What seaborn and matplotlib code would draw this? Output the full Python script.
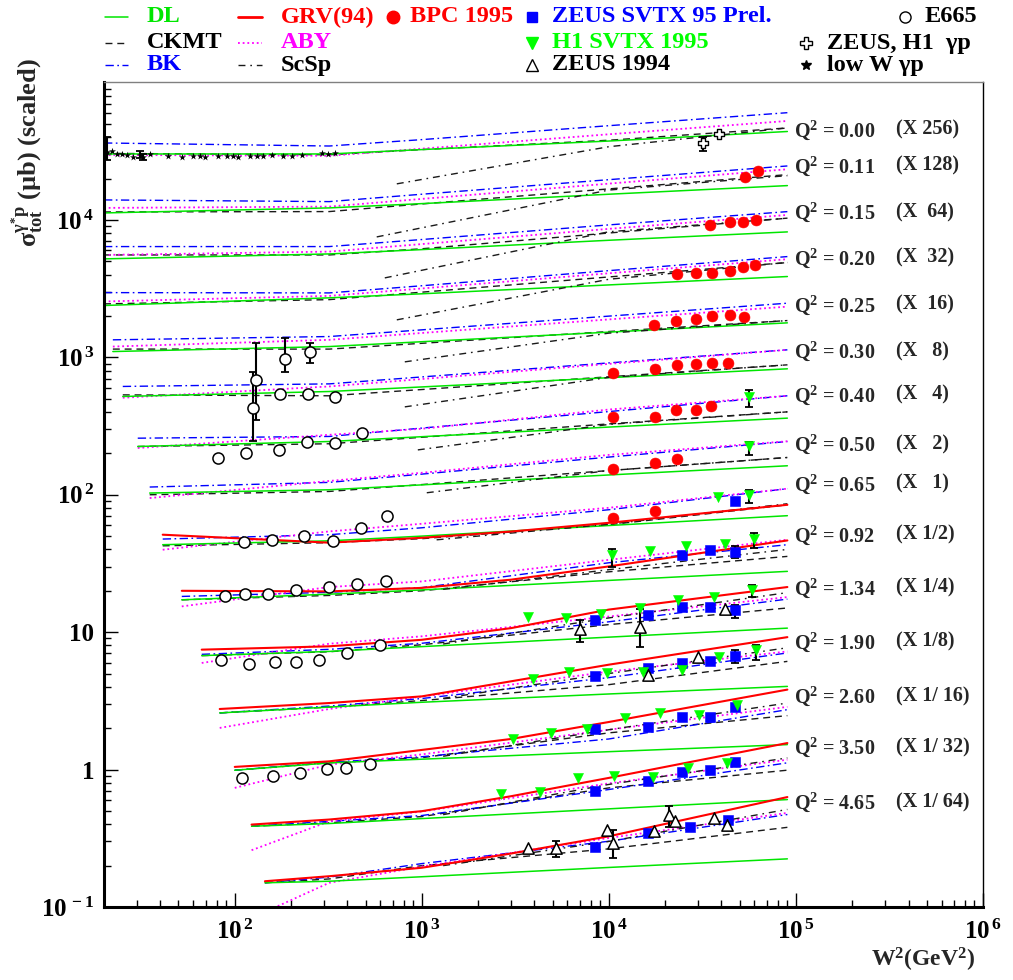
import numpy as np
import matplotlib
matplotlib.use("Agg")
import matplotlib.pyplot as plt
from matplotlib.lines import Line2D
from matplotlib import ticker
import seaborn as sns

sns.set_style("white")
plt.rcParams["font.family"] = ["Liberation Serif", "DejaVu Serif"]
plt.rcParams["font.weight"] = "bold"
plt.rcParams["mathtext.fontset"] = "custom"
plt.rcParams["mathtext.rm"] = "Liberation Serif:bold"
plt.rcParams["mathtext.it"] = "Liberation Serif:bold"
plt.rcParams["mathtext.bf"] = "Liberation Serif:bold"
plt.rcParams["mathtext.default"] = "bf"

GREEN = "#00e600"
BLUE = "#0000ff"
RED = "#ff0000"
MAGENTA = "#ff00ff"

# ---------------- data ----------------
q2_labels = ["0.00", "0.11", "0.15", "0.20", "0.25", "0.30", "0.40", "0.50",
             "0.65", "0.92", "1.34", "1.90", "2.60", "3.50", "4.65"]
scale_labels = ["(X 256)", "(X 128)", "(X  64)", "(X  32)", "(X  16)", "(X   8)",
                "(X   4)", "(X   2)", "(X   1)", "(X 1/2)", "(X 1/4)", "(X 1/8)",
                "(X 1/ 16)", "(X 1/ 32)", "(X 1/ 64)"]
label_sigma = [45200, 24700, 11400, 5300, 2410, 1110, 533, 231, 120, 51, 21,
               8.5, 3.4, 1.45, 0.575]
label_w2 = 97500
scale_w2 = 343000

x_ticks = [1e2, 1e3, 1e4, 1e5, 1e6]
y_ticks = [1e-1, 1, 10, 1e2, 1e3, 1e4]

# model curves: group start W2, then 320, 1e3, 1e4, 9e4 GeV^2
curve_w2_start = [20, 20, 20, 20, 22.3, 25.2, 30.3, 35.1, 41.2, 52.1, 66.6,
                  83.1, 100, 123, 145]
curve_w2_common = [320, 1000, 10000, 90000]

dl_sigma = [
    [30200, 30200, 32500, 37500, 44000],
    [11240, 12230, 13140, 15380, 17770],
    [5205, 5656, 6081, 7111, 8180],
    [2383, 2710, 2900, 3365, 3873],
    [1102, 1198, 1299, 1525, 1782],
    [519, 564, 609, 711, 825],
    [224.5, 244, 264.5, 310.8, 361],
    [102.9, 108.7, 118, 139.3, 162.5],
    [43.3, 46.2, 50.0, 59.7, 70.4],
    [17.2, 18.9, 20.3, 23.8, 27.7],
    [6.75, 7.24, 7.85, 9.2, 10.7],
    [2.585, 2.85, 3.09, 3.55, 4.03],
    [0.989, 1.119, 1.19, 1.35, 1.52],
    [0.387, 0.405, 0.44, 0.518, 0.605],
    [0.150, 0.154, 0.166, 0.194, 0.224],
]
ckmt_sigma = [
    [30500, 29800, 32500, 38000, 46700],
    [11430, 11500, 13070, 16820, 21360],
    [5560, 5560, 6166, 8030, 10290],
    [2449, 2630, 2980, 3846, 4897],
    [1148, 1148, 1265, 1541, 1852],
    [533, 525, 583, 722, 882],
    [224.5, 235, 262, 327.8, 401.4],
    [100, 105.7, 118.6, 150, 186.7],
    [42.5, 44.8, 47.9, 60.5, 84.5],
    [17.2, 18.5, 20.0, 27.5, 35.6],
    [6.75, 7.2, 8.1, 11.35, 15.0],
    [2.585, 2.85, 3.18, 4.15, 6.13],
    [0.989, 1.12, 1.22, 1.85, 2.47],
    [0.387, 0.41, 0.455, 0.736, 0.99],
    [0.150, 0.160, 0.200, 0.265, 0.380],
]
bk_sigma = [
    [36300, 34500, 38400, 48500, 60300],
    [13980, 13590, 15380, 19630, 24700],
    [6398, 6398, 7200, 9200, 11490],
    [2958, 2943, 3318, 4275, 5410],
    [1341, 1417, 1585, 1995, 2477],
    [614, 641, 720, 911, 1134],
    [258, 265.6, 305.6, 403, 525],
    [113.8, 123, 141.3, 188, 244],
    [47.6, 51.2, 57.5, 77.8, 110.7],
    [18.2, 19.5, 21.1, 32.0, 43.3],
    [6.9, 7.5, 8.3, 11.9, 17.4],
    [2.585, 2.9, 3.29, 4.67, 7.06],
    [0.989, 1.13, 1.24, 1.67, 2.73],
    [0.387, 0.42, 0.463, 0.716, 1.12],
    [0.150, 0.165, 0.207, 0.301, 0.471],
]
aby_sigma = [
    [29700, 29300, 33000, 42000, 52500],
    [12230, 12500, 14220, 18370, 23370],
    [5560, 5880, 6670, 8610, 10870],
    [2549, 2800, 3170, 4090, 5180],
    [1198, 1341, 1504, 1888, 2338],
    [508, 614, 695, 896, 1134],
    [218.8, 273, 302, 417, 525],
    [94.6, 126, 144.5, 195, 245],
    [39.8, 54.1, 61.5, 80.4, 110.7],
    [15.4, 21.3, 23.4, 33.6, 47.1],
    [5.97, 8.24, 9.33, 13.0, 18.0],
    [2.01, 2.76, 3.40, 5.16, 7.24],
    [0.736, 1.087, 1.29, 1.95, 2.86],
    [0.259, 0.42, 0.495, 0.794, 1.18],
    [0.092, 0.150, 0.197, 0.318, 0.484],
]

# GRV(94) only for Q2 >= 0.65 (groups 8..14): start, 320, 1e3, 3e3, 1e4, 9e4
grv_groups = [8, 9, 10, 11, 12, 13, 14]
grv_w2_common = [320, 1000, 3000, 10000, 90000]
grv_sigma = [
    [51.2, 44.8, 48.6, 54.0, 62.5, 84.5],
    [20.0, 19.8, 21.0, 24.1, 30.1, 46.5],
    [7.46, 7.89, 8.8, 10.7, 14.6, 21.3],
    [2.76, 3.05, 3.41, 4.39, 5.8, 9.2],
    [1.046, 1.148, 1.39, 1.67, 2.22, 3.82],
    [0.398, 0.433, 0.498, 0.64, 0.87, 1.56],
    [0.154, 0.1675, 0.193, 0.245, 0.327, 0.631],
]

# ScSp: start, 1e4, 9e4
scsp_w2_start = [735, 574, 634, 735, 811, 811, 952, 1063, 1200, 1300, 1300,
                 1300, 1300, 1300, 1300]
scsp_w2_common = [10000, 90000]
scsp_sigma = [
    [18300, 34100, 46700],
    [7520, 16500, 21000],
    [3785, 8200, 10300],
    [1874, 3700, 4897],
    [927, 1500, 1852],
    [436, 715, 882],
    [212, 325, 401],
    [103.4, 150, 186.7],
    [47.0, 61, 86],
    [20.5, 28.5, 40],
    [8.2, 12.7, 19.4],
    [3.3, 5.0, 7.7],
    [1.25, 1.95, 3.05],
    [0.47, 0.78, 1.216],
    [0.20, 0.30, 0.513],
]

# BPC 1995
bpc_w2 = [53400, 62600,
          34700, 44400, 52100, 61100,
          23100, 29200, 35500, 44400, 52100, 60400,
          17400, 22800, 29200, 35500, 44400, 52700,
          10500, 17600, 23100, 29200, 35500, 43300,
          10500, 17600, 22800, 29200, 35100,
          10500, 17600, 23100,
          10500, 17600]
bpc_sigma = [20550, 22700,
             9200, 9670, 9670, 10000,
             4050, 4120, 4120, 4260, 4550, 4710,
             1720, 1840, 1905, 2000, 2040, 1970,
             772, 825, 882, 897, 912, 912,
             369, 369, 415, 415, 444,
             155, 171, 183,
             68.0, 76.5]

# H1 SVTX 1995
h1_w2 = [56100, 56100, 38300, 56100,
         10400, 16600, 25800, 41700, 59600,
         3690, 5890, 9060, 14700, 23400, 36400, 58200,
         3920, 6110, 9760, 15200, 24600, 38800, 61100,
         3070, 4900, 7630, 12200, 18700, 30300, 48400,
         2650, 4280, 6830, 10600, 17200, 26500, 42800]
h1_sigma = [516, 227, 96.7, 100,
            36.6, 39.2, 42.6, 44.0, 47.9,
            12.96, 12.75, 13.63, 15.1, 17.2, 18.1, 20.4,
            4.59, 5.16, 5.08, 5.16, 5.34, 6.63, 7.46,
            1.68, 1.86, 1.99, 2.39, 2.60, 2.51, 2.97,
            0.669, 0.692, 0.875, 0.905, 0.889, 1.034, 1.124]
h1_err_w2 = [56100, 56100, 56100, 10400, 59600, 58200, 61100]
h1_err_sigma = [516, 227, 100, 36.6, 47.9, 20.4, 7.46]
h1_err_lo = [436, 195, 87.5, 29.9, 41.2, 18.1, 6.31]
h1_err_hi = [580, 243, 108.7, 40.5, 52.9, 22.2, 8.11]

# ZEUS SVTX 95 Prel.
zsvtx_w2 = [47200,
            24600, 34700, 47200,
            8400, 16200, 24600, 34700, 47200,
            8400, 16200, 24600, 34700, 47200,
            8400, 16200, 24600, 34700, 47200,
            8400, 16200, 24600, 34700, 47200,
            8400, 16200, 27100, 43300]
zsvtx_sigma = [90.4,
               36.6, 39.8, 38.5,
               12.33, 13.4, 15.3, 15.3, 14.6,
               4.83, 5.52, 6.00, 6.20, 6.75,
               1.99, 2.05, 2.43, 2.43, 2.87,
               0.704, 0.832, 0.967, 1.0, 1.144,
               0.275, 0.348, 0.385, 0.433]
zsvtx_err_w2 = [47200, 47200, 47200]
zsvtx_err_sigma = [38.5, 14.6, 6.75]
zsvtx_err_lo = [34.8, 12.75, 6.0]
zsvtx_err_hi = [42.6, 15.8, 7.46]

# ZEUS 1994
z94_w2 = [7000, 14700, 41700,
          16200, 29900,
          3690, 5210, 9760, 10500, 17400, 20900, 22500, 36400, 42800]
z94_sigma = [10.6, 10.96, 14.8,
             4.91, 6.63,
             0.271, 0.271, 0.366, 0.294, 0.360, 0.471, 0.426, 0.448, 0.398]
z94_err_w2 = [7000, 14700, 5210, 10500, 20900]
z94_err_sigma = [10.6, 10.96, 0.271, 0.294, 0.471]
z94_err_lo = [8.53, 7.85, 0.233, 0.229, 0.379]
z94_err_hi = [12.3, 14.8, 0.30, 0.366, 0.547]

# E665
e665_w2 = [129.5, 185, 252,
           125, 174, 246, 343,
           81.1, 114.5, 172, 243, 343, 478,
           111.7, 157.7, 234, 334, 472, 650,
           88.4, 113, 150, 212, 318, 449, 642,
           84.2, 118.8, 163.7, 212, 281, 397, 596,
           110, 159.7, 222.6, 310, 392, 527]
e665_sigma = [686, 975, 1096,
              429, 543, 543, 516,
              186, 202, 212, 243, 239, 282,
              45.5, 47.1, 50.3, 46.3, 57.5, 70.4,
              18.4, 19.05, 19.05, 20.4, 21.4, 22.5, 23.7,
              6.31, 5.90, 6.10, 6.10, 6.31, 7.09, 8.11,
              0.875, 0.905, 0.951, 1.017, 1.034, 1.105]
e665_err_w2 = [129.5, 185, 252, 125]
e665_err_sigma = [686, 975, 1096, 429]
e665_err_lo = [351, 784, 912, 247]
e665_err_hi = [1275, 1386, 1275, 784]

# ZEUS, H1 gamma p
zh_w2 = [31800, 38800]
zh_sigma = [36300, 42200]
zh_err_lo = [31800, 40000]
zh_err_hi = [40100, 44500]

# low W gamma p
loww_w2 = [20.7, 22.0, 23.4, 24.9, 26.5, 28.5, 31.0, 32.2, 35.1, 43.8, 52.1,
           59.6, 65.0, 69.1, 81.1, 90.6, 97.6, 103.8, 120.3, 131.1, 141.1,
           157.7, 180.6, 201.8, 228.2, 292, 314, 343]
loww_sigma = [31200, 31800, 30200, 30200, 29700, 28700, 29700, 28700, 30200,
              29200, 28700, 29200, 29200, 28700, 29200, 29200, 29200, 28700,
              29200, 29200, 29200, 29700, 29200, 29200, 29700, 30700, 30200,
              30700]
loww_err_w2 = [20.7, 31.0, 32.2]
loww_err_sigma = [31200, 29700, 28700]
loww_err_lo = [27300, 28000, 27500]
loww_err_hi = [40100, 31500, 30200]

# ---------------- figure ----------------
W_PX, H_PX = 1013, 980
fig = plt.figure(figsize=(W_PX / 100, H_PX / 100), dpi=100)
ax = fig.add_axes([104 / W_PX, 1 - 907 / H_PX, 879 / W_PX, 824.5 / H_PX])
ax.set_xscale("log")
ax.set_yscale("log")
ax.set_xlim(20, 1e6)
ax.set_ylim(0.1, 1e5)

styles = {
    "DL": dict(color=GREEN, lw=1.1, linestyle="-"),
    "CKMT": dict(color="0.1", lw=1.0, linestyle=(0, (5, 3.5))),
    "BK": dict(color=BLUE, lw=1.0, linestyle=(0, (6, 2.5, 1.2, 2.5))),
    "ABY": dict(color=MAGENTA, lw=1.3, linestyle=(0, (1.0, 1.6))),
    "ScSp": dict(color="0.1", lw=1.0, linestyle=(0, (5, 3.5, 1.2, 3.5))),
    "GRV": dict(color=RED, lw=1.5, linestyle="-"),
}

for i in range(len(q2_labels)):
    xs = [curve_w2_start[i]] + curve_w2_common
    for name, table in (("CKMT", ckmt_sigma), ("BK", bk_sigma),
                        ("ABY", aby_sigma), ("DL", dl_sigma)):
        sns.lineplot(x=xs, y=table[i], ax=ax, estimator=None, sort=False,
                     zorder=2, **styles[name])
    sns.lineplot(x=[scsp_w2_start[i]] + scsp_w2_common, y=scsp_sigma[i], ax=ax,
                 estimator=None, sort=False, zorder=2, **styles["ScSp"])

for g, ys in zip(grv_groups, grv_sigma):
    sns.lineplot(x=[curve_w2_start[g]] + grv_w2_common, y=ys, ax=ax,
                 estimator=None, sort=False, zorder=2, **styles["GRV"])


def errbars(xs, ys, lo, hi):
    ys = np.asarray(ys)
    ax.errorbar(xs, ys, yerr=[ys - np.asarray(lo), np.asarray(hi) - ys],
                fmt="none", ecolor="black", elinewidth=1.5, capsize=3,
                capthick=1.3, zorder=3)


errbars(h1_err_w2, h1_err_sigma, h1_err_lo, h1_err_hi)
errbars(zsvtx_err_w2, zsvtx_err_sigma, zsvtx_err_lo, zsvtx_err_hi)
errbars(z94_err_w2, z94_err_sigma, z94_err_lo, z94_err_hi)
errbars(e665_err_w2, e665_err_sigma, e665_err_lo, e665_err_hi)
errbars(zh_w2[:1], zh_sigma[:1], zh_err_lo[:1], zh_err_hi[:1])
errbars(loww_err_w2, loww_err_sigma, loww_err_lo, loww_err_hi)

sns.scatterplot(x=loww_w2, y=loww_sigma, ax=ax, marker="*", s=28,
                color="black", linewidth=0, zorder=5)
sns.scatterplot(x=e665_w2, y=e665_sigma, ax=ax, marker="o", s=64,
                color="white", edgecolor="black", linewidth=1.1, zorder=5)
sns.scatterplot(x=bpc_w2, y=bpc_sigma, ax=ax, marker="o", s=62,
                color=RED, edgecolor=RED, linewidth=0.4, zorder=5)
sns.scatterplot(x=zsvtx_w2, y=zsvtx_sigma, ax=ax, marker="s", s=46,
                color=BLUE, edgecolor=BLUE, linewidth=0.4, zorder=5)
sns.scatterplot(x=h1_w2, y=h1_sigma, ax=ax, marker="v", s=52,
                color="#00ff00", edgecolor="#00ff00", linewidth=0.4, zorder=5)
sns.scatterplot(x=z94_w2, y=z94_sigma, ax=ax, marker="^", s=66,
                color="white", edgecolor="black", linewidth=1.1, zorder=5)
sns.scatterplot(x=zh_w2, y=zh_sigma, ax=ax, marker="P", s=60,
                color="white", edgecolor="black", linewidth=1.0, zorder=5)

# Q2 labels and scale factors
for i in range(len(q2_labels)):
    ax.text(label_w2, label_sigma[i], "Q$^{2}$ = " + q2_labels[i],
            fontsize=14.5, fontweight="bold", va="center", ha="left")
    ax.text(scale_w2, label_sigma[i], scale_labels[i],
            fontsize=14.5, fontweight="bold", va="center", ha="left")

# axes styling
ax.xaxis.set_major_locator(ticker.FixedLocator(x_ticks))
ax.yaxis.set_major_locator(ticker.FixedLocator(y_ticks))
ax.xaxis.set_minor_locator(ticker.LogLocator(base=10, subs=np.arange(2, 10), numticks=40))
ax.yaxis.set_minor_locator(ticker.LogLocator(base=10, subs=np.arange(2, 10), numticks=40))
ax.xaxis.set_minor_formatter(ticker.NullFormatter())
ax.yaxis.set_minor_formatter(ticker.NullFormatter())


def x_fmt(v, pos):
    return r"$10^{\,%d}$" % int(round(np.log10(v)))


def y_fmt(v, pos):
    e = int(round(np.log10(v)))
    if e == 0:
        return "1"
    if e == 1:
        return "10"
    return r"$10^{\,%d}$" % e


ax.xaxis.set_major_formatter(ticker.FuncFormatter(x_fmt))
ax.yaxis.set_major_formatter(ticker.FuncFormatter(y_fmt))
ax.tick_params(which="both", direction="in", bottom=True, left=True,
               top=False, right=False, colors="black")
ax.tick_params(which="major", length=10, width=1.0, labelsize=18, pad=7)
ax.tick_params(which="minor", length=5, width=1.0)
ax.tick_params(axis="x", which="major", pad=9)
for lab in ax.get_xticklabels() + ax.get_yticklabels():
    lab.set_fontweight("bold")

for side in ("left", "bottom"):
    ax.spines[side].set_linewidth(2.2)
    ax.spines[side].set_color("black")
ax.spines["right"].set_linewidth(1.0)
ax.spines["right"].set_color("black")
ax.spines["top"].set_linewidth(1.0)
ax.spines["top"].set_color("0.5")

fig.text(27 / W_PX, 1 - 58 / H_PX, r"$\sigma_{tot}^{\gamma^{*}p}$ (µb) (scaled)",
         rotation=90, ha="center", va="top", fontsize=19, fontweight="bold")
fig.text(975 / W_PX, 1 - 960 / H_PX, r"W$^{2}$(GeV$^{2}$)", ha="right",
         va="center", fontsize=17, fontweight="bold")


# ---------------- legend (manual layout above the frame) ----------------
def fx(px):
    return px / W_PX


def fy(py):
    return 1 - py / H_PX


rows = [17, 43, 65]
line_entries = [
    (105, 128, 0, "DL", GREEN, styles["DL"]),
    (105, 128, 1, "CKMT", "black", styles["CKMT"]),
    (105, 128, 2, "BK", BLUE, styles["BK"]),
    (238, 262, 0, "GRV(94)", RED, dict(styles["GRV"], lw=2.0)),
    (238, 262, 1, "ABY", MAGENTA, styles["ABY"]),
    (238, 262, 2, "ScSp", "black", styles["ScSp"]),
]
for x0, x1, r, text, tcol, st in line_entries:
    fig.add_artist(Line2D([fx(x0), fx(x1)], [fy(rows[r]), fy(rows[r])],
                          transform=fig.transFigure, color=st["color"],
                          lw=st["lw"], linestyle=st["linestyle"]))
    fig.text(fx(x1 + 19), fy(rows[r]), text, color=tcol, fontsize=17.5,
             fontweight="bold", va="center", ha="left")

marker_entries = [
    (393, 0, "o", RED, RED, 9, "BPC 1995", RED, 410),
    (532, 0, "s", BLUE, BLUE, 7.5, "ZEUS SVTX 95 Prel.", BLUE, 552),
    (532, 1, "v", "#00ff00", "#00ff00", 8, "H1 SVTX 1995", "#00ff00", 552),
    (532, 2, "^", "white", "black", 8, "ZEUS 1994", "black", 552),
    (905, 0, "o", "white", "black", 8, "E665", "black", 925),
    (806, 1, "P", "white", "black", 8, "ZEUS, H1  γp", "black", 827),
    (806, 2, "*", "black", "black", 7, "low W γp", "black", 827),
]
for xm, r, mk, fc, ec, ms, text, tcol, xt in marker_entries:
    fig.add_artist(Line2D([fx(xm)], [fy(rows[r])], transform=fig.transFigure,
                          marker=mk, markersize=ms, markerfacecolor=fc,
                          markeredgecolor=ec, markeredgewidth=1.0, linestyle="none"))
    fig.text(fx(xt), fy(rows[r]), text, color=tcol, fontsize=17.5,
             fontweight="bold", va="center", ha="left")

fig.savefig("out.png", dpi=100)
